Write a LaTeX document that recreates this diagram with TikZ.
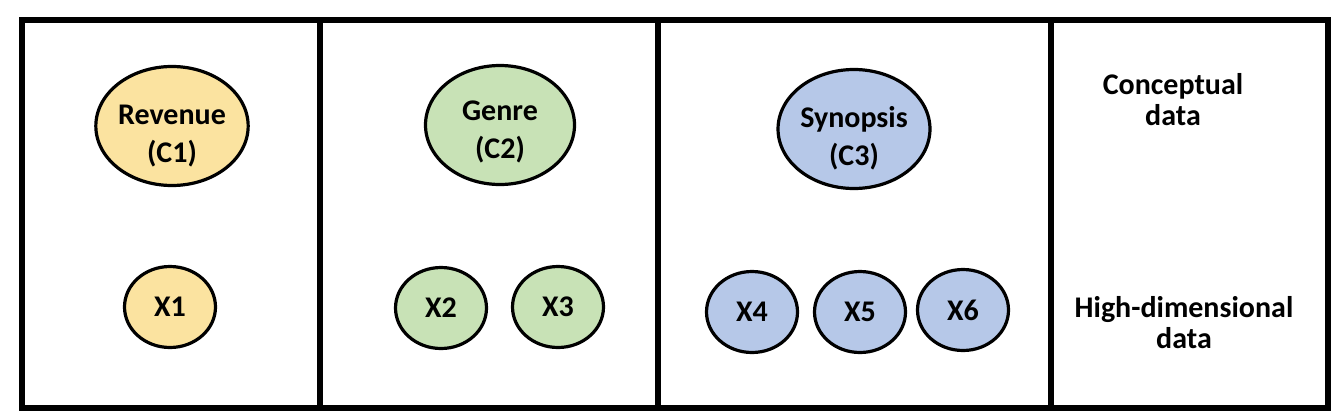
\documentclass[tikz,border=0pt]{standalone}
\usepackage{fontspec}
\setmainfont{Carlito}
\usetikzlibrary{shapes.geometric}
\definecolor{cyel}{HTML}{FBE3A0}
\definecolor{cgrn}{HTML}{C8E2B6}
\definecolor{cblu}{HTML}{B6C8E8}
\begin{document}
\begin{tikzpicture}[x=1pt,y=-1pt,
  panel/.style={draw=black,line width=6pt},
  concept/.style={ellipse,draw=black,line width=3.2pt,minimum width=149pt,minimum height=119pt,inner sep=0pt,align=center,font=\fontsize{30}{38}\selectfont\bfseries},
  feat/.style={ellipse,draw=black,line width=3.2pt,minimum width=91pt,minimum height=81pt,inner sep=0pt,font=\fontsize{30}{35}\selectfont\bfseries},
  lbl/.style={align=center,font=\fontsize{30}{31}\selectfont\bfseries}]
\useasboundingbox[fill=white] (0,0) rectangle (1343,418);
\draw[panel] (21.5,20) rectangle (1327.5,408);
\draw[panel] (320,20) -- (320,408);
\draw[panel] (658,20) -- (658,408);
\draw[panel] (1051,20) -- (1051,408);
\node[concept,fill=cyel] (c1) at (172,126) {\mbox{}\\[2pt]Revenue\\(C1)};
\node[concept,fill=cgrn] (c2) at (500,125) {\mbox{}\\[-4pt]Genre\\(C2)};
\node[concept,fill=cblu] (c3) at (854,129) {\mbox{}\\[2pt]Synopsis\\(C3)};
\node[feat,fill=cyel] (x1) at (170,307) {X1};
\node[feat,fill=cgrn] (x2) at (441,308) {X2};
\node[feat,fill=cgrn] (x3) at (558,307) {X3};
\node[feat,fill=cblu] (x4) at (752,312) {X4};
\node[feat,fill=cblu] (x5) at (860,312) {X5};
\node[feat,fill=cblu] (x6) at (963,310) {X6};
\node[lbl] (t1) at (1173,100) {Conceptual\\data};
\node[lbl] (t2) at (1184,323) {High-dimensional\\data};
\end{tikzpicture}
\end{document}
